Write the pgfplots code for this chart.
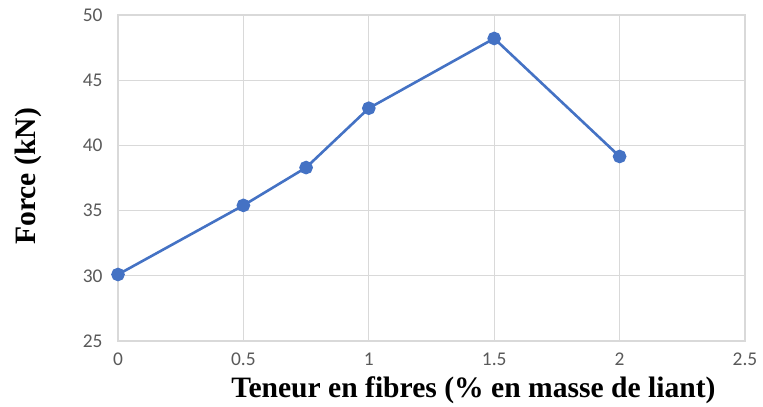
\documentclass[border=0pt]{standalone}
\usepackage{pgfplots}
\pgfplotsset{compat=1.18}
\usepackage{fontspec}
\setmainfont{Liberation Serif}
\newfontfamily\carlito{Carlito}
\definecolor{lineblue}{RGB}{68,114,196}
\definecolor{gridgray}{RGB}{217,217,217}
\definecolor{tickgray}{RGB}{89,89,89}

\begin{document}
\begin{tikzpicture}
\useasboundingbox (-118bp,-66bp) rectangle (645bp,341bp);
\begin{axis}[
  at={(0,0)}, anchor=south west,
  scale only axis,
  width=627bp, height=326bp,
  xmin=0, xmax=2.5,
  ymin=25, ymax=50,
  xtick={0,0.5,1,1.5,2,2.5},
  xticklabels={0,0.5,1,1.5,2,2.5},
  ytick={25,30,35,40,45,50},
  grid=major,
  major grid style={gridgray, line width=1.2bp},
  axis line style={gridgray, line width=1.2bp},
  major tick length=0pt,
  /pgf/number format/assume math mode=true,
  tick label style={font=\carlito\fontsize{19.5}{20}\selectfont, text=tickgray},
  xticklabel style={yshift=-8bp},
  yticklabel style={xshift=-12bp},
  clip=false,
]
\addplot[lineblue, line width=2.6bp, mark=*, mark size=5.5bp,
  mark options={fill=lineblue, draw=lineblue}] coordinates {
  (0,30.1) (0.5,35.4) (0.75,38.3) (1,42.85) (1.5,48.2) (2,39.15)
};
\node[font=\bfseries\fontsize{29.7}{30}\selectfont, anchor=base]
  at (axis description cs:0.567,-0.172) {Teneur en fibres (\% en masse de liant)};
\node[font=\bfseries\fontsize{29.7}{30}\selectfont, anchor=base, rotate=90]
  at (axis description cs:-0.131,0.505) {Force (kN)};
\end{axis}
\end{tikzpicture}
\end{document}
